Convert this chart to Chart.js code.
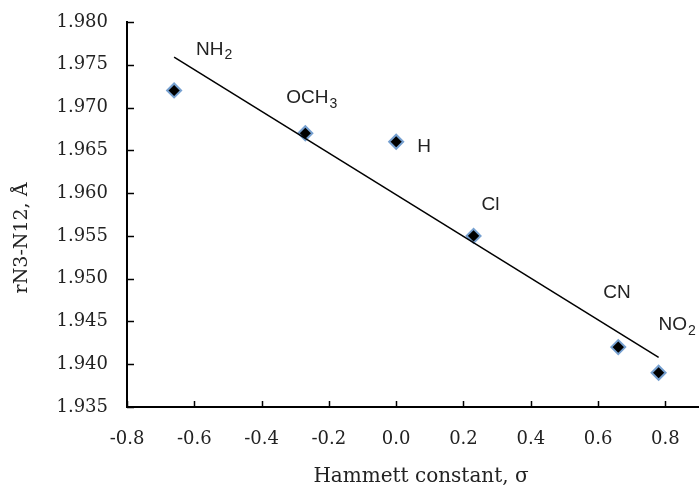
<!DOCTYPE html>
<html>
<head>
<meta charset="utf-8">
<script src="https://cdn.jsdelivr.net/npm/chart.js@4.4.0/dist/chart.umd.min.js"></script>
<style>
  body { margin: 0; background: #fff; }
  #wrap { width: 699px; height: 491px; }
</style>
</head>
<body>
<div id="wrap"><canvas id="myChart" width="699" height="491"></canvas></div>
<script>
// substituents and their Hammett constants / bond lengths
var groups = ['NH2', 'OCH3', 'H', 'Cl', 'CN', 'NO2'];
var sigma = [-0.66, -0.27, 0.00, 0.23, 0.66, 0.78];
var bondLength = [1.972, 1.967, 1.966, 1.955, 1.942, 1.939];

// linear fit line, end points
var fitX = [-0.66, 0.78];
var fitY = [1.9759, 1.9408];

var xTicks = { min: -0.8, max: 0.9, step: 0.2 };
var yTicks = { min: 1.935, max: 1.980, step: 0.005 };

// label placement in pixels relative to each point (left edge, vertical middle)
var labelOffsets = [[22, -41], [-19, -35], [21, 5], [8, -31], [-15, -54], [0, -48]];

var serif = '"DejaVu Serif", serif';
var sans = '"Liberation Sans", Arial, sans-serif';

function drawChem(ctx, text, x, y) {
    // digits after letters are drawn as subscripts
    var cx = x;
    for (var i = 0; i < text.length; i++) {
        var ch = text[i];
        if (/[0-9]/.test(ch)) {
            ctx.font = '14px ' + sans;
            ctx.fillText(ch, cx + 1, y + 6);
        } else {
            ctx.font = '19px ' + sans;
            ctx.fillText(ch, cx, y);
        }
        cx += ctx.measureText(ch).width;
    }
}

var extras = {
    id: 'extras',
    afterDraw: function (chart) {
        var ctx = chart.ctx;
        var xs = chart.scales.x, ys = chart.scales.y;
        var area = chart.chartArea;
        ctx.save();

        // inside tick marks
        ctx.strokeStyle = '#000';
        ctx.lineWidth = 1.5;
        xs.ticks.forEach(function (t) {
            var px = Math.round(xs.getPixelForValue(t.value)) + 0.5;
            ctx.beginPath();
            ctx.moveTo(px, area.bottom);
            ctx.lineTo(px, area.bottom - 6);
            ctx.stroke();
        });
        ys.ticks.forEach(function (t) {
            var py = Math.round(ys.getPixelForValue(t.value)) + 0.5;
            ctx.beginPath();
            ctx.moveTo(area.left, py);
            ctx.lineTo(area.left + 7, py);
            ctx.stroke();
        });

        // point labels
        ctx.fillStyle = '#222';
        ctx.textBaseline = 'middle';
        ctx.textAlign = 'left';
        for (var i = 0; i < groups.length; i++) {
            var px = xs.getPixelForValue(sigma[i]);
            var py = ys.getPixelForValue(bondLength[i]);
            drawChem(ctx, groups[i], px + labelOffsets[i][0], py + labelOffsets[i][1]);
        }

        // axis titles
        ctx.fillStyle = '#222';
        ctx.font = '20px ' + serif;
        ctx.textAlign = 'center';
        ctx.fillText('Hammett constant, \u03c3', 421, 477);

        ctx.font = '19px ' + serif;
        ctx.translate(22, 238);
        ctx.rotate(-Math.PI / 2);
        ctx.fillText('rN3-N12, \u00c5', 0, 0);
        ctx.restore();
    }
};

function createChart() {
    var ctx = document.getElementById('myChart').getContext('2d');
    var points = sigma.map(function (s, i) { return { x: s, y: bondLength[i] }; });
    var fit = fitX.map(function (s, i) { return { x: s, y: fitY[i] }; });

    new Chart(ctx, {
        type: 'scatter',
        data: {
            datasets: [
                {
                    data: fit,
                    showLine: true,
                    borderColor: '#000',
                    borderWidth: 1.5,
                    pointRadius: 0
                },
                {
                    data: points,
                    pointStyle: 'rectRot',
                    pointRadius: 7,
                    backgroundColor: '#000',
                    borderColor: '#76a0d0',
                    borderWidth: 2
                }
            ]
        },
        options: {
            responsive: false,
            animation: false,
            layout: { autoPadding: false, padding: { top: 22, right: 0, left: 0, bottom: 0 } },
            plugins: { legend: { display: false }, tooltip: { enabled: false } },
            scales: {
                x: {
                    type: 'linear',
                    min: xTicks.min,
                    max: xTicks.max,
                    afterFit: function (scale) {
                        scale.height = 84;
                        scale.paddingLeft = 0;
                        scale.paddingRight = 0;
                    },
                    grid: { drawOnChartArea: false, drawTicks: false },
                    border: { display: true, color: '#000', width: 2 },
                    ticks: {
                        stepSize: xTicks.step,
                        includeBounds: false,
                        padding: 22,
                        color: '#222',
                        font: { family: serif, size: 18 },
                        callback: function (v) { return v.toFixed(1); }
                    }
                },
                y: {
                    min: yTicks.min,
                    max: yTicks.max,
                    afterFit: function (scale) {
                        scale.width = 127;
                        scale.paddingTop = 0;
                        scale.paddingBottom = 0;
                    },
                    grid: { drawOnChartArea: false, drawTicks: false },
                    border: { display: true, color: '#000', width: 2 },
                    ticks: {
                        stepSize: yTicks.step,
                        padding: 19,
                        color: '#222',
                        font: { family: serif, size: 18 },
                        callback: function (v) { return v.toFixed(3); }
                    }
                }
            }
        },
        plugins: [extras]
    });
}
createChart();
</script>
</body>
</html>
